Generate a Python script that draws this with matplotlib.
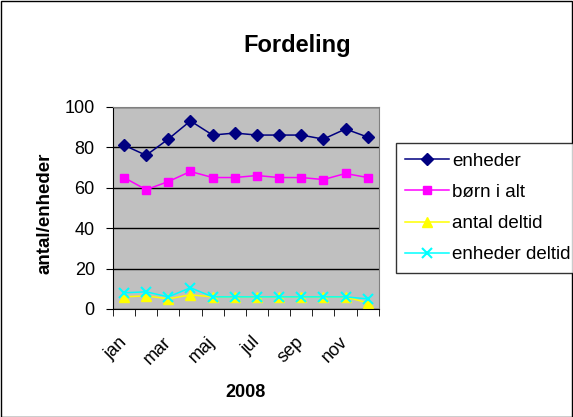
import matplotlib
matplotlib.use('Agg')
import matplotlib.pyplot as plt
from matplotlib.patches import Rectangle
from matplotlib.transforms import ScaledTranslation

plt.rcParams['font.family'] = ['Liberation Sans', 'DejaVu Sans']

months = ['jan', 'feb', 'mar', 'apr', 'maj', 'jun', 'jul', 'aug', 'sep', 'okt', 'nov', 'dec']
enheder = [81, 76, 84, 93, 86, 87, 86, 86, 86, 84, 89, 85]
boern = [65, 59, 63, 68, 65, 65, 66, 65, 65, 64, 67, 65]
antal_deltid = [6, 6.5, 5, 7, 6, 6, 6, 6, 6, 6, 6, 3]
enheder_deltid = [8, 8.5, 6, 10.5, 6, 6, 6, 6, 6, 6, 6, 5]
yticks = [0, 20, 40, 60, 80, 100]

fig = plt.figure(figsize=(5.73, 4.17), dpi=100)
fig.patches.append(Rectangle((0.001, 0.001), 0.997, 0.997, transform=fig.transFigure,
                             fill=False, edgecolor='black', linewidth=1))

ax = fig.add_axes([0.197, 0.259, 0.464, 0.485])
ax.set_facecolor('#C0C0C0')
x = list(range(len(months)))

ax.plot(x, enheder, color='#000080', marker='D', markersize=6, lw=1.1, label='enheder')
ax.plot(x, boern, color='#FF00FF', marker='s', markersize=6, lw=1.1, label='børn i alt')
ax.plot(x, antal_deltid, color='#FFFF00', marker='^', markersize=7, lw=1.1, label='antal deltid')
ax.plot(x, enheder_deltid, color='#00FFFF', marker='x', markersize=7, mew=1.5, lw=1.1, label='enheder deltid')

ax.set_ylim(0, 100)
ax.set_yticks(yticks)
ax.yaxis.grid(True, color='black', lw=1)
ax.set_axisbelow(True)
ax.set_xlim(-0.5, 11.5)
ax.set_xticks([i - 0.5 for i in range(13)], minor=True)
ax.set_xticks(x[::2])
ax.set_xticklabels(months[::2], rotation=45, ha='right', va='center',
                   rotation_mode='anchor', fontsize=13)
shift = ScaledTranslation(-8 / 100, 0, fig.dpi_scale_trans)
for lbl in ax.get_xticklabels():
    lbl.set_transform(lbl.get_transform() + shift)
ax.tick_params(axis='x', which='major', length=0, pad=22)
ax.tick_params(axis='x', which='minor', length=5, direction='out')
ax.tick_params(axis='y', labelsize=13, length=5, pad=8)

for s in ['top', 'right']:
    ax.spines[s].set_color('#808080')
ax.spines['left'].set_color('black')
ax.spines['bottom'].set_color('black')

fig.text(45 / 573, 1 - 213.5 / 417, 'antal/enheder', rotation=90, ha='center', va='center',
         fontsize=13.5, fontweight='bold')
fig.text(0.428, 1 - 397 / 417, '2008', ha='center', va='baseline', fontsize=13, fontweight='bold')
fig.text(0.519, 1 - 51.7 / 417, 'Fordeling', ha='center', va='baseline', fontsize=17, fontweight='bold')

leg = fig.legend(loc='upper left', bbox_to_anchor=(396 / 573, 1 - 143.3 / 417), fontsize=13.5,
                 frameon=True, fancybox=False, edgecolor='black', labelspacing=0.75,
                 handlelength=2.3, handletextpad=0.2, borderpad=0.5, borderaxespad=0)
leg.get_frame().set_linewidth(1)

fig.savefig('out.png', dpi=100)
